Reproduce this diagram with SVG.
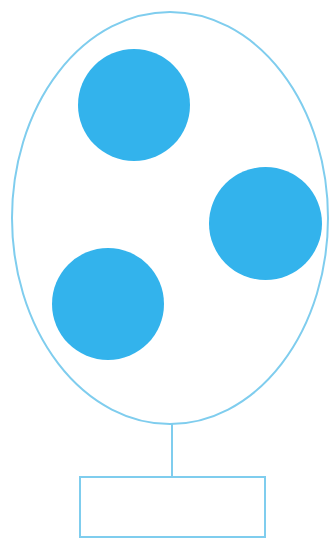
<svg xmlns="http://www.w3.org/2000/svg" width="329" height="539" viewBox="0 0 329 539">
<style>
.outline{fill:none;stroke:#7fcdee;stroke-width:2}
.dot{fill:#33b3ec}
</style>
<rect width="329" height="539" fill="#ffffff"/>
<g id="egg"><ellipse class="outline" cx="170" cy="218" rx="158" ry="206"/></g>
<g id="dot1"><circle class="dot" cx="134" cy="105" r="56"/></g>
<g id="dot2"><circle class="dot" cx="265.5" cy="223.5" r="56.5"/></g>
<g id="dot3"><circle class="dot" cx="108" cy="304" r="56"/></g>
<g id="connectors"><line class="outline" x1="172" y1="424" x2="172" y2="477"/></g>
<g id="box"><rect class="outline" x="80" y="477" width="185" height="60"/></g>
</svg>
